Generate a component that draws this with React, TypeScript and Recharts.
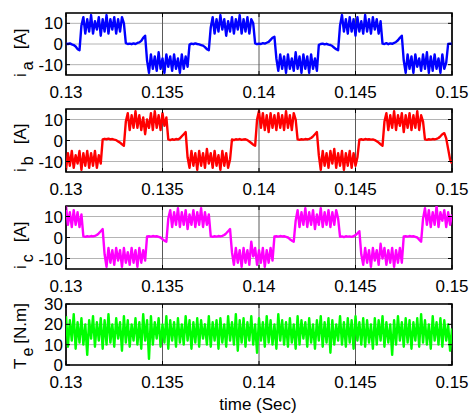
import React from 'react';
import { LineChart, Line, XAxis, YAxis, CartesianGrid, ReferenceArea } from 'recharts';

// sampling grid of the traces
const T0 = 0.13;
const DT = 0.0001;

const xTicks = [0.13, 0.135, 0.14, 0.145, 0.15];
const iTicks = [-10, 0, 10];
const teTicks = [0, 10, 20, 30];
const iDomain = [-15, 15];
const teDomain = [0, 30];

// phase a current [A]
const ia = [
  0.2, 0, 0.3, -0.2, -0.5, -1.2, -2.5, -3,
  9, 13, 5, 12, 6, 14, 5, 11, 7, 13, 4, 12, 6, 14, 5, 12, 7, 13, 5, 12, 6, 13, 10,
  0.4, 0, 0.2, -0.1, 0.3, 0, 0.5, 0.8, 1.5, 3, 4,
  -8, -14, -5, -12, -6, -13, -4, -12, -7, -14, -5, -11, -6, -13, -5, -12, -7, -14, -5, -12, -6, -11,
  -0.3, 0.2, -0.1, 0.3, 0, -0.2, -0.5, -0.8, -1.5, -2.5, -3,
  8, 13, 5, 12, 6, 14, 7, 12, 4, 11, 6, 13, 5, 12, 7, 14, 5, 12, 6, 13, 5, 12, 10,
  0.3, -0.1, 0.2, 0, 0.4, 0.2, 0.6, 1, 2, 3, 3.5,
  -7, -13, -5, -12, -6, -14, -5, -12, -7, -13, -4, -12, -6, -14, -5, -12, -6, -14, -5, -12, -7, -13,
  -0.4, 0, 0.2, -0.2, 0.1, -0.3, -0.5, -1, -1.8, -2.5, -3,
  9, 14, 6, 12, 5, 13, 6, 12, 4, 13, 6, 11, 5, 14, 6, 12, 5, 13, 7, 12, 5, 11,
  0.2, 0, 0.4, -0.1, 0.3, 0.1, 0.5, 1, 1.8, 3, 4,
  -8, -14, -5, -12, -6, -14, -5, -11, -7, -13, -5, -12, -4, -14, -6, -13, -5, -12, -7, -14, -5, -12, -9,
  0, 0.2, 0,
];

// phase b current [A]
const ib = [
  -14, -6, -12, -5, -13, -7, -11, -5, -14, -6, -12, -5, -13, -6, -12, -5, -13, -7, -11,
  0.5, 0.8, 0.6, 0.9, 0.5, 0.7, 0.4, 0.2, -0.5, -1, -1.8, -2.5,
  9, 13, 5, 12, 6, 14, 6, 12, 5, 11, 3, 10, 6, 13, 5, 14, 6, 12, 5, 13, 7, 11,
  0.5, 0.2, 0.6, 0.3, 0.7, 0.5, 1, 2, 3, 4,
  -8, -13, -5, -12, -6, -14, -5, -12, -6, -13, -4, -11, -6, -13, -5, -12, -7, -14, -5, -12, -6, -13, -9,
  0.5, 0.2, 0.6, 0.4, 0.7, 0.3, 0.5, 0.6, 0.2, -0.5, -1.2, -2, -2.5,
  10, 14, 6, 13, 5, 12, 4, 13, 6, 12, 5, 13, 6, 12, 5, 14, 6, 12, 5, 13, 10,
  0.5, 0.3, 0.6, 0.4, 0.7, 0.5, 0.8, 1.2, 2, 3, 4,
  -7, -14, -5, -12, -6, -13, -5, -11, -4, -13, -6, -12, -5, -14, -6, -12, -5, -13, -6, -12, -8,
  0.4, 0.6, 0.3, 0.7, 0.5, 0.6, 0.4, 0.5, 0.2, -0.4, -1, -1.8, -2.5,
  9, 13, 5, 12, 6, 14, 5, 12, 7, 13, 4, 12, 6, 13, 5, 12, 6, 14, 5, 12, 9,
  0.5, 0.3, 0.6, 0.4, 0.7, 0.5, 0.8, 1.2, 2, 3, 3.5, 1,
  -4, -9, -11,
];

// phase c current [A]
const ic = [
  15, 6, 12, 5, 13, 6, 12, 5, 11,
  0.5, 0.3, 0.6, 0.4, 0.7, 0.5, 0.8, 1.2, 2, 3, 4,
  -8, -14, -5, -12, -6, -13, -5, -11, -6, -14, -5, -12, -7, -13, -5, -12, -6, -14, -5, -12, -6, -11,
  0.5, 0.6, 0.4, 0.7, 0.5, 0.6, 0.3, 0, -0.8, -1.5, -2,
  9, 13, 5, 12, 6, 14, 5, 12, 6, 13, 4, 11, 6, 13, 5, 12, 6, 14, 5, 12, 6, 11,
  0.5, 0.3, 0.6, 0.4, 0.7, 0.5, 0.8, 1.2, 2, 3, 4,
  -7, -13, -5, -12, -6, -14, -5, -12, -6, -13, -2, -9, -5, -13, -6, -12, -5, -14, -6, -12, -5, -11,
  0.5, 0.6, 0.4, 0.7, 0.5, 0.6, 0.3, 0, -0.8, -1.5, -2,
  8, 13, 5, 12, 6, 14, 5, 12, 6, 13, 4, 11, 6, 14, 5, 12, 6, 13, 5, 12, 6, 13, 9,
  0.3, 0.5, 0.2, 0.6, 0.4, 0.5, 0.3, 0.6, 1.2, 2, 3,
  -8, -13, -5, -12, -6, -14, -5, -11, -6, -13, -3, -10, -5, -13, -6, -12, -5, -14, -6, -12, -5, -12,
  0.5, 0.6, 0.4, 0.7, 0.5, 0.6, 0.3, 0, -1, -2,
  9, 14, 6, 13, 5, 12, 6, 15, 5, 12, 8, 13, 5, 12, 6, 11,
];

// electromagnetic torque [N.m]
const te = [
  24, 9, 22, 12, 25, 8, 21, 11, 23, 10,
  20, 5, 22, 13, 24, 9, 21, 12, 23, 8,
  22, 10, 25, 11, 20, 9, 23, 13, 21, 7,
  24, 11, 22, 9, 20, 12, 23, 10, 21, 8,
  25, 12, 22, 3, 24, 10, 21, 13, 23, 9,
  20, 11, 24, 8, 22, 12, 21, 9, 23, 11,
  20, 10, 24, 12, 22, 8, 21, 11, 23, 9,
  22, 13, 20, 10, 24, 9, 21, 12, 22, 8,
  23, 11, 20, 9, 24, 12, 21, 10, 25, 7,
  22, 11, 23, 9, 21, 12, 24, 10, 20, 6,
  23, 12, 21, 9, 24, 11, 22, 10, 20, 8,
  25, 12, 22, 10, 21, 9, 23, 11, 20, 8,
  24, 10, 22, 13, 21, 9, 23, 11, 20, 8,
  22, 12, 24, 9, 21, 11, 23, 6, 22, 10,
  20, 12, 24, 10, 21, 9, 23, 11, 22, 8,
  24, 12, 21, 10, 23, 9, 22, 11, 20, 8,
  23, 10, 22, 12, 24, 9, 21, 11, 20, 5,
  22, 10, 24, 12, 21, 9, 23, 11, 22, 8,
  21, 12, 23, 9, 25, 11, 22, 10, 20, 8,
  24, 12, 21, 10, 23, 9, 22, 12, 20, 7,
  18,
];

const data = ia.map((v, i) => ({
  t: Math.round((T0 + i * DT) * 1e6) / 1e6,
  ia: v,
  ib: ib[i],
  ic: ic[i],
  te: te[i],
}));

const FONT = '"Liberation Sans", Arial, Helvetica, sans-serif';
const W = 471;
const PLOT_L = 66;
const PLOT_R = 452;
const TICK_LEN = 4;
const X_TICK_GAP = 11;

type PanelProps = {
  top: number;
  plotH: number;
  dataKey: string;
  color: string;
  domain: number[];
  ticks: number[];
  xAxisH?: number;
};

function Panel({ top, plotH, dataKey, color, domain, ticks, xAxisH = 30 }: PanelProps) {
  const mt = 10;
  const height = mt + plotH + xAxisH;

  const renderYTick = (p: any) => {
    const { x, y, payload } = p;
    return (
      <g>
        <line x1={PLOT_L} x2={PLOT_L + TICK_LEN} y1={y} y2={y} stroke="#000" strokeWidth={1} />
        <line x1={PLOT_R - TICK_LEN} x2={PLOT_R} y1={y} y2={y} stroke="#000" strokeWidth={1} />
        <text x={x} y={y} dy="0.355em" textAnchor="end" fontSize={17} fontFamily={FONT} fill="#000">
          {payload.value}
        </text>
      </g>
    );
  };

  const renderXTick = (p: any) => {
    const { x, y, payload } = p;
    const bottom = y - X_TICK_GAP;
    const topY = bottom - plotH;
    return (
      <g>
        <line x1={x} x2={x} y1={bottom} y2={bottom - TICK_LEN} stroke="#000" strokeWidth={1} />
        <line x1={x} x2={x} y1={topY} y2={topY + TICK_LEN} stroke="#000" strokeWidth={1} />
        <text x={x} y={y} dy="0.71em" textAnchor="middle" fontSize={17} fontFamily={FONT} fill="#000">
          {String(payload.value)}
        </text>
      </g>
    );
  };

  return (
    <div style={{ position: 'absolute', left: 0, top: top - mt, width: W, height }}>
      <LineChart width={W} height={height} data={data} margin={{ top: mt, right: W - PLOT_R, bottom: 0, left: 0 }}>
        <CartesianGrid vertical={false} stroke="#b4b4b4" strokeWidth={1} />
        <CartesianGrid horizontal={false} stroke="#5a5a5a" strokeWidth={1} />
        <XAxis
          dataKey="t"
          type="number"
          domain={[0.13, 0.15]}
          ticks={xTicks}
          interval={0}
          allowDataOverflow
          axisLine={false}
          tickLine={false}
          tickSize={0}
          tickMargin={X_TICK_GAP}
          height={xAxisH}
          tick={renderXTick}
        />
        <YAxis
          type="number"
          domain={domain}
          ticks={ticks}
          interval={0}
          allowDataOverflow
          axisLine={false}
          tickLine={false}
          tickSize={0}
          tickMargin={3}
          width={PLOT_L}
          tick={renderYTick}
        />
        <Line
          dataKey={dataKey}
          stroke={color}
          strokeWidth={2.4}
          dot={false}
          type="linear"
          strokeLinejoin="round"
          isAnimationActive={false}
        />
        <ReferenceArea
          x1={0.13}
          x2={0.15}
          y1={domain[0]}
          y2={domain[1]}
          fill="none"
          fillOpacity={0}
          stroke="#000"
          strokeWidth={1.6}
          ifOverflow="visible"
        />
      </LineChart>
    </div>
  );
}

type YLabelProps = { bottom: number; main: string; sub: string; unit: string; g1: number; g2: number };

function YLabel({ bottom, main, sub, unit, g1, g2 }: YLabelProps) {
  return (
    <text transform="rotate(-90)" x={-bottom} y={25.5} fontSize={17} fontFamily={FONT} fill="#000">
      {main}
      <tspan dx={g1} dy={7} fontSize={16}>{sub}</tspan>
      <tspan dx={g2} dy={-7}>{unit}</tspan>
    </text>
  );
}

export default function App() {
  return (
    <div style={{ position: 'absolute', left: 0, top: 0, width: W, height: 414, background: '#fff', fontFamily: FONT, overflow: 'hidden' }}>
      <Panel top={13} plotH={62} dataKey="ia" color="#0000ff" domain={iDomain} ticks={iTicks} />
      <Panel top={109} plotH={63} dataKey="ib" color="#ff0000" domain={iDomain} ticks={iTicks} />
      <Panel top={206} plotH={63} dataKey="ic" color="#ff00ff" domain={iDomain} ticks={iTicks} />
      <Panel top={304} plotH={61} dataKey="te" color="#00ff00" domain={teDomain} ticks={teTicks} />
      <svg width={W} height={414} style={{ position: 'absolute', left: 0, top: 0, pointerEvents: 'none' }}>
        <YLabel bottom={77} main="i" sub="a" unit="[A]" g1={3} g2={12} />
        <YLabel bottom={172} main="i" sub="b" unit="[A]" g1={3} g2={12} />
        <YLabel bottom={269} main="i" sub="c" unit="[A]" g1={3} g2={12} />
        <YLabel bottom={369} main="T" sub="e" unit="[N.m]" g1={2} g2={4} />
        <text x={258} y={410} textAnchor="middle" fontSize={17} fontFamily={FONT} fill="#000">time (Sec)</text>
      </svg>
    </div>
  );
}
